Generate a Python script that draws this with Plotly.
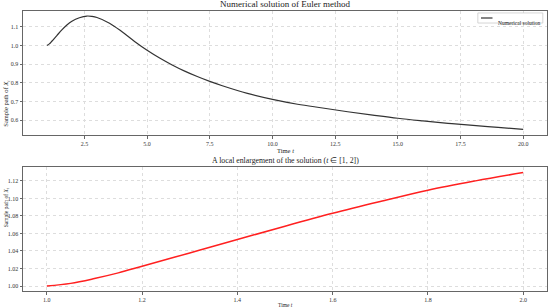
import plotly.graph_objects as go
from plotly.subplots import make_subplots

# full path
t_full = [1.0, 1.1, 1.2, 1.4, 1.6, 1.8, 2.0, 2.3, 2.6, 2.8, 3.0, 3.5, 4.0, 4.5, 5.0,
          5.5, 6.0, 6.5, 7.0, 7.5, 8.0, 9.0, 10.0, 11.0, 12.0, 13.0, 14.0, 15.0,
          16.0, 17.0, 18.0, 19.0, 20.0]
x_full = [1.0, 1.0085, 1.0225, 1.053, 1.083, 1.1094, 1.1295, 1.148, 1.157, 1.155, 1.149,
          1.119, 1.073, 1.0215, 0.9745, 0.933, 0.896, 0.863, 0.834, 0.808, 0.785,
          0.744, 0.712, 0.686, 0.666, 0.646, 0.628, 0.611, 0.597, 0.584, 0.573,
          0.562, 0.552]

# zoom on t in [1, 2]
t_zoom = [1.0, 1.05, 1.1, 1.15, 1.2, 1.3, 1.4, 1.5, 1.6, 1.7, 1.8, 1.9, 2.0]
x_zoom = [1.0, 1.003, 1.0085, 1.015, 1.0225, 1.0377, 1.053, 1.0683, 1.083, 1.0965,
          1.1094, 1.120, 1.1295]

font_name = "Liberation Serif"
spine = "#666666"
grid = "#dddddd"
line_dark = "#333333"

fig = make_subplots(rows=2, cols=1)

fig.add_trace(go.Scatter(x=t_full, y=x_full, mode="lines", name="Numerical solution",
                         showlegend=False,
                         line=dict(color=line_dark, width=1.2, shape="spline")),
              row=1, col=1)
fig.add_trace(go.Scatter(x=t_zoom, y=x_zoom, mode="lines", showlegend=False,
                         line=dict(color="#ff2020", width=1.5, shape="spline")),
              row=2, col=1)

axis_style = dict(showline=True, linecolor=spine, linewidth=1, mirror=True,
                  showgrid=True, gridcolor=grid, griddash="dot", gridwidth=0.8,
                  zeroline=False, ticks="outside", ticklen=2.5, tickcolor=spine,
                  automargin=False,
                  tickfont=dict(size=6, color="#333333", family=font_name))

fig.update_xaxes(axis_style)
fig.update_yaxes(axis_style)

fig.update_layout(
    xaxis=dict(domain=[0, 1], range=[0.05, 20.95], tickvals=[2.5, 5, 7.5, 10, 12.5, 15, 17.5, 20],
               ticktext=["2.5", "5.0", "7.5", "10.0", "12.5", "15.0", "17.5", "20.0"]),
    yaxis=dict(domain=[0.5567, 1.0], range=[0.521, 1.184], tickvals=[0.6, 0.7, 0.8, 0.9, 1.0, 1.1],
               ticktext=["0.6", "0.7", "0.8", "0.9", "1.0", "1.1"]),
    xaxis2=dict(domain=[0, 1], range=[0.95, 2.05], tickvals=[1.0, 1.2, 1.4, 1.6, 1.8, 2.0],
                ticktext=["1.0", "1.2", "1.4", "1.6", "1.8", "2.0"]),
    yaxis2=dict(domain=[0, 0.4412], range=[0.9943, 1.1353],
                tickvals=[1.0, 1.02, 1.04, 1.06, 1.08, 1.10, 1.12],
                ticktext=["1.00", "1.02", "1.04", "1.06", "1.08", "1.10", "1.12"]),
    width=550, height=308,
    margin=dict(l=23, r=3, t=11, b=17, autoexpand=False),
    paper_bgcolor="white", plot_bgcolor="white",
    font=dict(family=font_name, color="#222222"),
    showlegend=False,
    hovermode=False,
)

# legend box drawn by hand (plotly's own legend has a large minimum row height)
fig.add_shape(type="rect", xref="paper", yref="paper", x0=0.868, x1=0.992, y0=0.957, y1=0.993,
              line=dict(color="#cccccc", width=0.8), fillcolor="white")
fig.add_shape(type="line", xref="paper", yref="paper", x0=0.874, x1=0.896, y0=0.975, y1=0.975,
              line=dict(color=line_dark, width=1.2))

annotations = [
    dict(text="Numerical solution", x=0.903, y=0.975, xanchor="left",
         xref="paper", yref="paper", font=dict(size=5.5)),
    dict(text="Numerical solution of Euler method", x=0.5, y=1.0, yshift=0,
         xref="paper", yref="paper", yanchor="bottom", font=dict(size=9)),
    dict(text="Time <i>t</i>", x=0.5, y=0.5567, yshift=-10,
         xref="paper", yref="paper", yanchor="top", font=dict(size=6.5)),
    dict(text="Sample path of <i>X<sub>t</sub></i>", x=0, xshift=-17, y=0.76, xanchor="center",
         xref="paper", yref="paper", textangle=-90, font=dict(size=6.5)),
    dict(text="A local enlargement of the solution (<i>t</i> ∈ [1, 2])", x=0.5, y=0.4412, yshift=0,
         xref="paper", yref="paper", yanchor="bottom", font=dict(size=7.8)),
    dict(text="Time <i>t</i>", x=0.5, y=0, yshift=-9,
         xref="paper", yref="paper", yanchor="top", font=dict(size=5.5)),
    dict(text="Sample path of <i>X<sub>t</sub></i>", x=0, xshift=-17, y=0.2206, xanchor="center",
         xref="paper", yref="paper", textangle=-90, font=dict(size=5.5)),
]
for a in annotations:
    a["showarrow"] = False
    fig.add_annotation(a)

fig.write_html("out.html", config={"displayModeBar": False},
               post_script="document.body.style.margin='0';")
